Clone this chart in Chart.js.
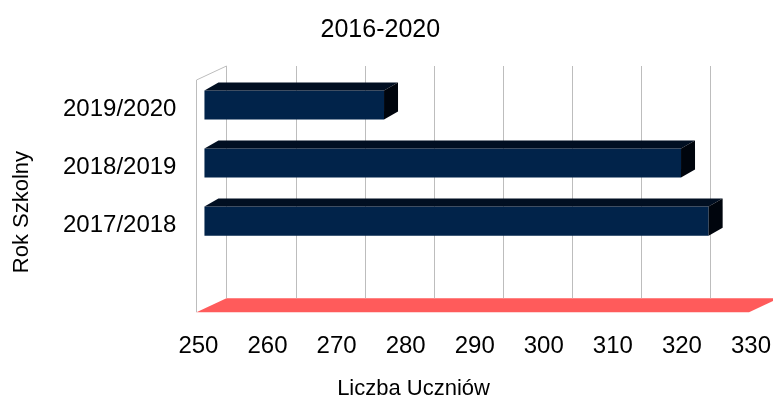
<!DOCTYPE html>
<html lang="pl">

<head>
    <meta charset="UTF-8">
    <title>2016-2020</title>
    <script src="https://cdn.jsdelivr.net/npm/chart.js"></script>
    <style>
        body {
            margin: 0;
            padding: 0;
            background: #ffffff;
        }
    </style>
</head>

<body>
    <canvas id="chart" width="773" height="404"></canvas>

    <script>
        // Data
        var categories = ['2019/2020', '2018/2019', '2017/2018', ''];
        var students = [276, 319, 323, null];
        var xMin = 250;
        var xMax = 330;
        var xStep = 10;

        var titleText = '2016-2020';
        var xTitle = 'Liczba Uczniów';
        var yTitle = 'Rok Szkolny';

        // 3D look: depth of the walls and of the bars
        var wallDx = 30, wallDy = 14;
        var barShiftX = 8, barShiftY = 4;
        var barDx = 14, barDy = 8;

        var fontName = '"Liberation Sans", Arial, sans-serif';

        var depthPlugin = {
            id: 'depth',
            beforeDatasetsDraw: function (chart) {
                var ctx = chart.ctx;
                var a = chart.chartArea;
                var xs = chart.scales.x;

                // floor
                ctx.save();
                ctx.fillStyle = '#ff5b5b';
                ctx.beginPath();
                ctx.moveTo(a.left, a.bottom);
                ctx.lineTo(a.right, a.bottom);
                ctx.lineTo(a.right + wallDx, a.bottom - wallDy);
                ctx.lineTo(a.left + wallDx, a.bottom - wallDy);
                ctx.closePath();
                ctx.fill();

                // grid lines on the back wall
                ctx.strokeStyle = '#bdbdbd';
                ctx.lineWidth = 1;
                for (var v = xMin; v <= xMax; v += xStep) {
                    var px = Math.round(xs.getPixelForValue(v) + wallDx) + 0.5;
                    ctx.beginPath();
                    ctx.moveTo(px, a.top - wallDy);
                    ctx.lineTo(px, a.bottom - wallDy);
                    ctx.stroke();
                }

                // left wall edges
                var lx = Math.round(a.left) + 0.5;
                ctx.beginPath();
                ctx.moveTo(lx + wallDx, a.top - wallDy);
                ctx.lineTo(lx, a.top);
                ctx.lineTo(lx, a.bottom);
                ctx.stroke();
                ctx.restore();

                // bars sit a little behind the front edge
                ctx.save();
                ctx.translate(barShiftX, -barShiftY);
            },
            afterDatasetsDraw: function (chart) {
                var ctx = chart.ctx;
                var a = chart.chartArea;
                var bars = chart.getDatasetMeta(0).data;
                bars.forEach(function (bar, i) {
                    if (students[i] === null) return;
                    var p = bar.getProps(['x', 'y', 'base', 'height'], true);
                    var left = Math.max(p.base, a.left);
                    var top = p.y - p.height / 2;
                    var bottom = p.y + p.height / 2;
                    // top face
                    ctx.fillStyle = '#010f22';
                    ctx.beginPath();
                    ctx.moveTo(left, top);
                    ctx.lineTo(p.x, top);
                    ctx.lineTo(p.x + barDx, top - barDy);
                    ctx.lineTo(left + barDx, top - barDy);
                    ctx.closePath();
                    ctx.fill();
                    // side face
                    ctx.fillStyle = '#00050d';
                    ctx.beginPath();
                    ctx.moveTo(p.x, top);
                    ctx.lineTo(p.x + barDx, top - barDy);
                    ctx.lineTo(p.x + barDx, bottom - barDy);
                    ctx.lineTo(p.x, bottom);
                    ctx.closePath();
                    ctx.fill();
                });
                ctx.restore();
            },
            afterDraw: function (chart) {
                var ctx = chart.ctx;
                ctx.save();
                ctx.fillStyle = '#000000';
                ctx.textAlign = 'center';
                ctx.textBaseline = 'middle';
                ctx.font = '25px ' + fontName;
                ctx.fillText(titleText, chart.width * 0.492, 30);
                ctx.font = '22px ' + fontName;
                ctx.fillText(xTitle, chart.width * 0.535, chart.height - 15);
                ctx.translate(22, chart.height * 0.525);
                ctx.rotate(-Math.PI / 2);
                ctx.fillText(yTitle, 0, 0);
                ctx.restore();
            }
        };

        var ctx = document.getElementById('chart').getContext('2d');
        var chart = new Chart(ctx, {
            type: 'bar',
            data: {
                labels: categories,
                datasets: [{
                    data: students,
                    backgroundColor: '#01234a',
                    borderWidth: 0,
                    barPercentage: 1,
                    categoryPercentage: 0.5
                }]
            },
            options: {
                indexAxis: 'y',
                responsive: false,
                animation: false,
                layout: {
                    padding: { left: 43, right: 0, top: 80, bottom: 31 }
                },
                scales: {
                    x: {
                        min: xMin,
                        max: xMax,
                        grid: { display: false },
                        border: { display: false },
                        afterFit: function (scale) {
                            // keep the last label just inside the right edge
                            scale.paddingRight = 24;
                        },
                        ticks: {
                            stepSize: xStep,
                            autoSkip: false,
                            maxRotation: 0,
                            padding: 12,
                            labelOffset: 2,
                            color: '#000000',
                            font: { family: fontName, size: 24 }
                        }
                    },
                    y: {
                        grid: { display: false, drawTicks: false },
                        border: { display: false },
                        ticks: {
                            padding: 20,
                            color: '#000000',
                            font: { family: fontName, size: 24 }
                        }
                    }
                },
                plugins: {
                    legend: { display: false },
                    tooltip: { enabled: false },
                    title: { display: false }
                }
            },
            plugins: [depthPlugin]
        });
    </script>
</body>

</html>
